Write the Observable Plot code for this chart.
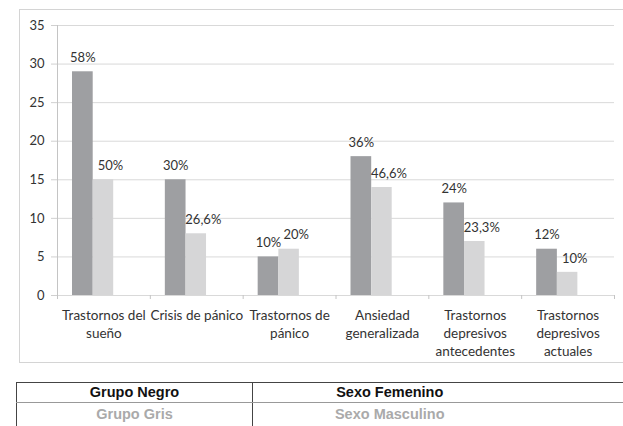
<!DOCTYPE html>
<html><head><meta charset="utf-8">
<script src="https://cdn.jsdelivr.net/npm/d3@7"></script>
<script src="https://cdn.jsdelivr.net/npm/@observablehq/plot@0.6"></script>
<style>
body{margin:0;background:#fff;}
#wrap{position:relative;width:623px;height:426px;overflow:hidden;background:#fff;}
#frame{position:absolute;left:19px;top:9px;width:640px;height:354px;border:1px solid #d4d4d4;box-sizing:border-box;}
#chart{position:absolute;left:0;top:0;}
#legend{position:absolute;left:16px;top:382px;border-collapse:collapse;table-layout:fixed;width:660px;font-family:"Liberation Sans",Arial,sans-serif;font-weight:bold;font-size:14.5px;}
#legend td{text-align:center;padding:0;height:19px;line-height:19px;overflow:hidden;white-space:nowrap;}
</style></head>
<body>
<div id="wrap">
<div id="frame"></div>
<div id="chart"></div>
<table id="legend">
<colgroup><col style="width:236px"><col style="width:274px"><col style="width:150px"></colgroup>
<tr><td style="border-top:1px solid #444;border-left:1px solid #444;border-right:1px solid #444;border-bottom:1px solid #999;color:#111">Grupo Negro</td>
<td style="border-top:1px solid #444;border-bottom:1px solid #999;color:#111">Sexo Femenino</td><td style="border-top:1px solid #444;border-bottom:1px solid #999"></td></tr>
<tr><td style="border-left:1px solid #444;border-right:1px solid #444;color:#aaa;height:23px">Grupo Gris</td>
<td style="color:#aaa">Sexo Masculino</td><td></td></tr>
</table>
</div>
<script>
const categories = ["Trastornos del sueño","Crisis de pánico","Trastornos de pánico","Ansiedad generalizada","Trastornos depresivos antecedentes","Trastornos depresivos actuales"];
const categoryLabels = ["Trastornos del\nsueño","Crisis de pánico","Trastornos de\npánico","Ansiedad\ngeneralizada","Trastornos\ndepresivos\nantecedentes","Trastornos\ndepresivos\nactuales"];
const grupoNegro = [29, 15, 5, 18, 12, 6];
const grupoGris = [15, 8, 6, 14, 7, 3];
const labelsNegro = ["58%","30%","10%","36%","24%","12%"];
const labelsGris = ["50%","26,6%","20%","46,6%","23,3%","10%"];
const yTicks = [0, 5, 10, 15, 20, 25, 30, 35];

const negro = categories.map((c, i) => ({cat: c, v: grupoNegro[i], label: labelsNegro[i]}));
const gris = categories.map((c, i) => ({cat: c, v: grupoGris[i], label: labelsGris[i]}));
const labelMap = new Map(categories.map((c, i) => [c, categoryLabels[i]]));

const W = 623, H = 375, mL = 57, mR = 9, mT = 25, mB = 80;
const bw = (W - mL - mR) / categories.length;
const font = "Lato, 'Open Sans', sans-serif";

const chart = Plot.plot({
  width: W, height: H,
  marginLeft: mL, marginRight: mR, marginTop: mT, marginBottom: mB,
  style: {fontFamily: font, fontSize: "13px", color: "#333", background: "transparent"},
  x: {domain: categories, padding: 0, round: false, label: null},
  y: {domain: [0, 35], label: null},
  marks: [
    Plot.ruleY(yTicks, {stroke: "#d9d9d9", strokeWidth: 1}),
    Plot.ruleX([categories[0]], {y1: 0, y2: 35, dx: -bw / 2, stroke: "#c4c4c4"}),
    Plot.barY(negro, {x: "cat", y: "v", fill: "#9e9fa2", insetLeft: 15, insetRight: bw - 15 - 20.7}),
    Plot.barY(gris, {x: "cat", y: "v", fill: "#d6d6d7", insetLeft: 35.7, insetRight: bw - 35.7 - 20.5}),
    Plot.text(negro, {x: "cat", y: "v", text: "label", dx: -bw / 2 + 25.3, dy: -14, fill: "#333", fontSize: 13}),
    Plot.text(gris, {x: "cat", y: "v", text: "label", dx: -bw / 2 + 46 + 7, dy: -14, fill: "#333", fontSize: 13}),
    Plot.axisY({ticks: yTicks, tickSize: 6, tickPadding: 7, stroke: "#d0d0d0", fill: "#333", fontSize: 13, label: null}),
    Plot.axisX({tickSize: 4, dx: -bw / 2, tickFormat: () => "", stroke: "#c4c4c4", label: null}),
    Plot.axisX({ticks: [categories[categories.length - 1]], tickSize: 4, dx: bw / 2, tickFormat: () => "", stroke: "#c4c4c4", label: null}),
    Plot.axisX({tickSize: 0, tickPadding: 12, tickFormat: d => labelMap.get(d), lineHeight: 1.33, fill: "#333", fontSize: 13.5, textOverflow: null, label: null})
  ]
});
document.getElementById("chart").appendChild(chart);
</script>
</body></html>
